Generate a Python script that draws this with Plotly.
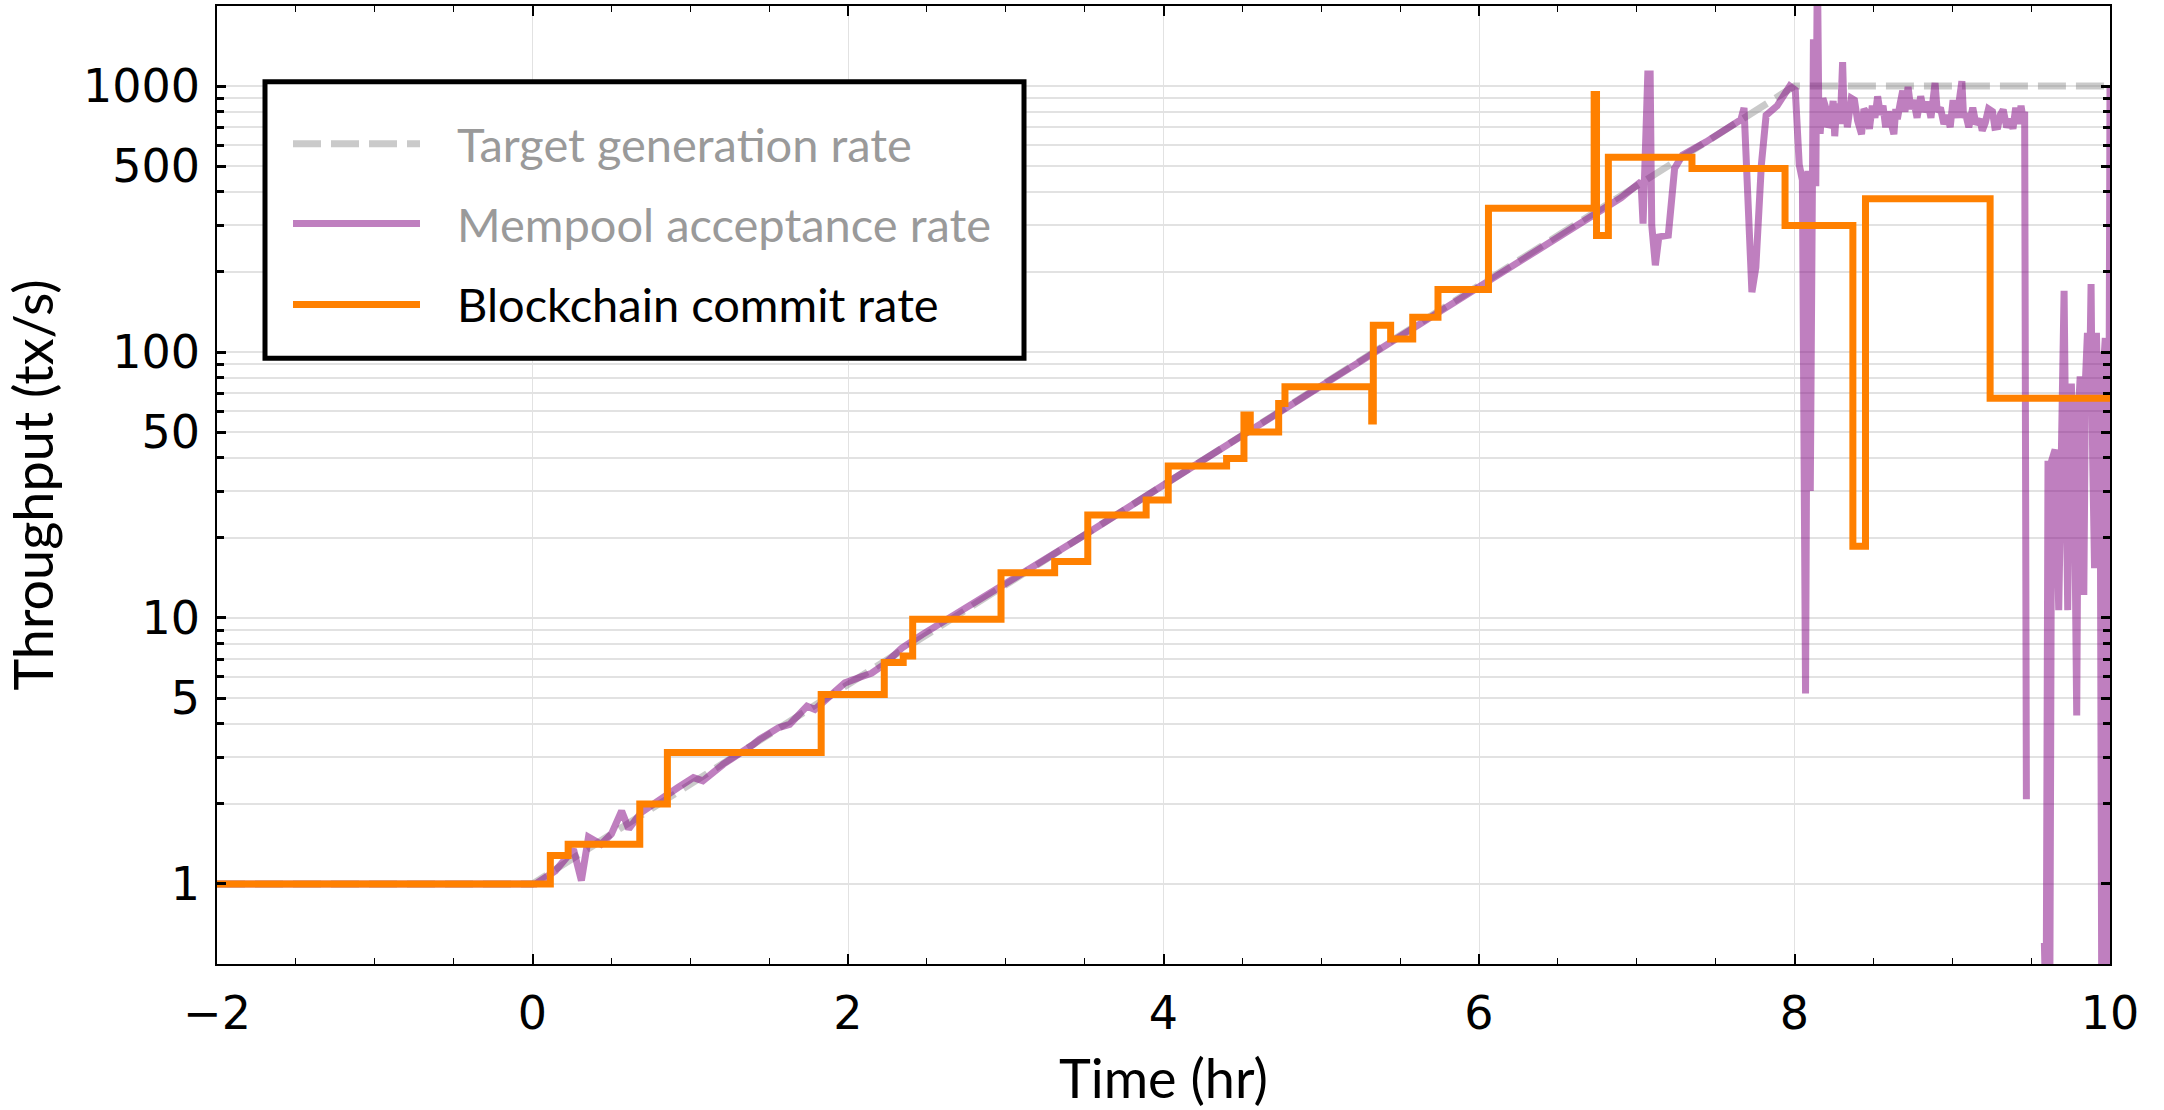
import plotly.graph_objects as go
import math

# ---------------- data ----------------
target_t = [-2.0, 0.0, 8.0, 10.0]
target_rate = [1.0, 1.0, 1000.0, 1000.0]

mempool_t = [
    -2.0, 0.0, 0.02, 0.145, 0.21, 0.26, 0.31, 0.355, 0.435, 0.50, 0.565, 0.61, 0.69, 0.79,
    0.92, 1.02, 1.08, 1.21, 1.31, 1.40, 1.44, 1.56, 1.63, 1.74, 1.79, 1.89, 1.98, 2.08,
    2.15, 2.23, 2.34, 2.47, 3.0, 3.5, 4.0, 4.5, 5.0, 5.5, 6.0, 6.5, 6.9,
    7.027, 7.04, 7.07, 7.085, 7.095, 7.118, 7.14, 7.20, 7.24, 7.29, 7.44, 7.66, 7.68,
    7.71, 7.73, 7.755, 7.79, 7.82, 7.89, 7.97, 8.005, 8.03, 8.05, 8.07, 8.085, 8.10,
    8.12, 8.135, 8.145, 8.155,
    8.164, 8.18, 8.198, 8.21, 8.232, 8.245, 8.255, 8.265, 8.277, 8.29, 8.305, 8.315,
    8.323, 8.335, 8.345, 8.36, 8.38, 8.40, 8.425, 8.44, 8.459, 8.475, 8.493, 8.51,
    8.527, 8.545, 8.561, 8.578, 8.595, 8.612, 8.63, 8.642, 8.652, 8.67, 8.686, 8.70,
    8.72, 8.737, 8.755, 8.777, 8.80, 8.82, 8.845, 8.865, 8.891, 8.905, 8.925, 8.947,
    8.97, 8.987, 9.005, 9.03, 9.061, 9.072, 9.084, 9.105, 9.13, 9.15, 9.175, 9.19,
    9.209, 9.23, 9.255, 9.27, 9.289, 9.305, 9.323, 9.345, 9.368, 9.385, 9.402, 9.42,
    9.436, 9.448, 9.459, 9.47, 9.49,
    9.584, 9.595, 9.607, 9.618, 9.63, 9.652, 9.675, 9.69, 9.709, 9.72, 9.732, 9.745,
    9.755, 9.775, 9.789, 9.80, 9.811, 9.822, 9.834, 9.845, 9.857, 9.868, 9.88, 9.89,
    9.902, 9.914, 9.925, 9.936, 9.948, 9.96, 9.97, 9.982, 10.0,
]
mempool_rate = [
    1.0, 1.0, 1.0, 1.12, 1.26, 1.35, 1.03, 1.5, 1.41, 1.54, 1.88, 1.61, 1.86, 2.05,
    2.3, 2.51, 2.44, 2.82, 3.07, 3.35, 3.5, 3.87, 3.98, 4.66, 4.53, 5.16, 5.7, 6.0,
    6.2, 6.7, 7.7, 8.66, 13.4, 20.5, 31.6, 48.6, 75.0, 115.0, 178.0, 274.0, 380.0,
    437.0, 304.0, 1110.0, 1110.0, 300.0, 212.0, 271.0, 275.0, 490.0, 550.0, 617.0, 747.0, 828.0,
    330.0, 168.0, 208.0, 506.0, 776.0, 843.0, 1000.0, 965.0, 506.0, 443.0, 5.2, 480.0, 30.0,
    1500.0, 420.0, 3000.0, 680.0,
    680.0, 900.0, 830.0, 700.0, 750.0, 880.0, 648.0, 800.0, 857.0, 720.0, 1230.0, 760.0,
    857.0, 700.0, 776.0, 900.0, 885.0, 740.0, 659.0, 820.0, 789.0, 690.0, 843.0, 760.0,
    915.0, 780.0, 843.0, 700.0, 802.0, 720.0, 659.0, 820.0, 751.0, 860.0, 961.0, 800.0,
    993.0, 820.0, 885.0, 760.0, 915.0, 800.0, 871.0, 760.0, 1027.0, 800.0, 829.0, 720.0,
    776.0, 700.0, 885.0, 760.0, 1044.0, 760.0, 789.0, 700.0, 829.0, 720.0, 751.0, 680.0,
    727.0, 820.0, 802.0, 700.0, 703.0, 780.0, 815.0, 700.0, 751.0, 690.0, 829.0, 720.0,
    843.0, 760.0, 800.0, 2.08, None,
    0.6, 0.3, 39.0, 0.3, 39.0, 43.0, 10.7, 43.0, 170.0, 40.0, 10.7, 60.0,
    76.0, 30.0, 4.3, 60.0, 81.0, 40.0, 12.2, 80.0, 118.0, 60.0, 180.0, 40.0,
    15.4, 118.0, 60.0, 100.0, 0.3, 90.0, 113.0, 0.3, 1000.0,
]

commit_t = [-2.0, 0.113, 0.226, 0.68, 0.855, 1.83, 2.23, 2.35, 2.41, 2.97, 3.31, 3.52,
            3.89, 4.03, 4.40, 4.51, 4.55, 4.73, 4.77, 5.32, 5.33, 5.44, 5.58, 5.74, 6.06,
            6.73, 6.745, 6.82, 7.35, 7.94, 8.37, 8.45, 9.24, 10.0]
commit_rate = [1.0, 1.28, 1.41, 2.0, 3.12, 5.16, 6.8, 7.2, 9.9, 14.8, 16.3, 24.4,
               27.8, 37.3, 39.8, 58.0, 50.0, 64.0, 74.0, 55.0, 126.0, 112.0, 135.0, 172.0, 347.0,
               930.0, 274.0, 540.0, 490.0, 299.0, 18.6, 377.0, 67.0, 67.0]

x_tick_vals = [-2, 0, 2, 4, 6, 8, 10]
x_tick_text = ["\u22122", "0", "2", "4", "6", "8", "10"]
y_tick_vals = [1, 5, 10, 50, 100, 500, 1000]
y_tick_text = ["1", "5", "10", "50", "100", "500", "1000"]

legend_names = ["Target generation rate", "Mempool acceptance rate", "Blockchain commit rate"]

# ---------------- styling ----------------
W, H = 2164, 1110
ML, MR, MT, MB = 217, 54, 4, 146
PW, PH = W - ML - MR, H - MT - MB

GREY = "rgba(128,128,128,0.42)"
PURPLE = "rgba(128,0,128,0.5)"
ORANGE = "#ff8000"
GRID = "#e2e2e2"
TICKFONT = dict(family="DejaVu Sans", size=46, color="black")
TITLEFONT = dict(family="Lato", size=54, color="black")


def px_to_paper(px, py):
    return (px - ML) / PW, (H - MB - py) / PH


fig = go.Figure()
fig.add_trace(go.Scatter(x=target_t, y=target_rate, mode="lines", name=legend_names[0],
                         line=dict(color=GREY, width=7, dash="28px,10px"), showlegend=False))
fig.add_trace(go.Scatter(x=mempool_t, y=mempool_rate, mode="lines", name=legend_names[1],
                         line=dict(color=PURPLE, width=7), connectgaps=False, showlegend=False))
fig.add_trace(go.Scatter(x=commit_t, y=commit_rate, mode="lines", name=legend_names[2],
                         line=dict(color=ORANGE, width=7, shape="hv"), showlegend=False))

x_minor = [v / 2 for v in range(-4, 21)]
y_minor = []
for d in [1, 10, 100, 1000]:
    for m in range(1, 10):
        v = m * d
        if v <= 2000:
            y_minor.append(v)

fig.update_xaxes(
    range=[-2, 10], tickmode="array", tickvals=x_tick_vals, ticktext=x_tick_text,
    ticks="inside", ticklen=10, tickwidth=1.5, tickcolor="black",
    showline=True, linecolor="black", linewidth=1.5, mirror="ticks",
    showgrid=True, gridcolor=GRID, gridwidth=1.2, zeroline=False,
    minor=dict(tickmode="array", tickvals=x_minor, ticks="inside", ticklen=6,
               tickwidth=1.2, tickcolor="black", showgrid=False),
    tickfont=TICKFONT, ticklabelstandoff=8,
    title=dict(text="Time (hr)", font=TITLEFONT, standoff=22),
)
fig.update_yaxes(
    type="log", range=[math.log10(0.5), math.log10(2000)],
    tickmode="array", tickvals=y_tick_vals, ticktext=y_tick_text,
    ticks="inside", ticklen=9, tickwidth=2.5, tickcolor="black",
    showline=True, linecolor="black", linewidth=1.5, mirror="ticks",
    showgrid=True, gridcolor=GRID, gridwidth=1.5, zeroline=False,
    minor=dict(tickmode="array", tickvals=y_minor, ticks="inside", ticklen=7,
               tickwidth=2.5, tickcolor="black", showgrid=True, gridcolor=GRID, gridwidth=1.5),
    tickfont=TICKFONT, ticklabelstandoff=6,
    title=dict(text="Throughput (tx/s)", font=TITLEFONT, standoff=16),
)

# ---------------- hand-drawn legend box ----------------
bx0, by1 = px_to_paper(265, 80)
bx1, by0 = px_to_paper(1024, 357)
shapes = [dict(type="rect", xref="paper", yref="paper", x0=bx0, x1=bx1, y0=by0, y1=by1,
               line=dict(color="black", width=5), fillcolor="white", layer="above")]
rows_py = [142, 222, 303]
styles = [dict(color=GREY, width=7, dash="28px,10px"),
          dict(color=PURPLE, width=7),
          dict(color=ORANGE, width=7)]
text_colors = ["#9a9a9a", "#9a9a9a", "black"]
annotations = []
for name, py, st, tc in zip(legend_names, rows_py, styles, text_colors):
    lx0, ly = px_to_paper(293, py)
    lx1, _ = px_to_paper(420, py)
    shapes.append(dict(type="line", xref="paper", yref="paper", x0=lx0, x1=lx1, y0=ly, y1=ly,
                       line=st, layer="above"))
    tx, ty = px_to_paper(455, py)
    annotations.append(dict(xref="paper", yref="paper", x=tx, y=ty, text=name, showarrow=False,
                            xanchor="left", yanchor="middle",
                            font=dict(family="Lato", size=47, color=tc)))

fig.update_layout(
    width=W, height=H, autosize=False,
    margin=dict(l=ML, r=MR, t=MT, b=MB, pad=0),
    paper_bgcolor="white", plot_bgcolor="white",
    shapes=shapes, annotations=annotations, showlegend=False,
)

fig.write_html("out.html")
